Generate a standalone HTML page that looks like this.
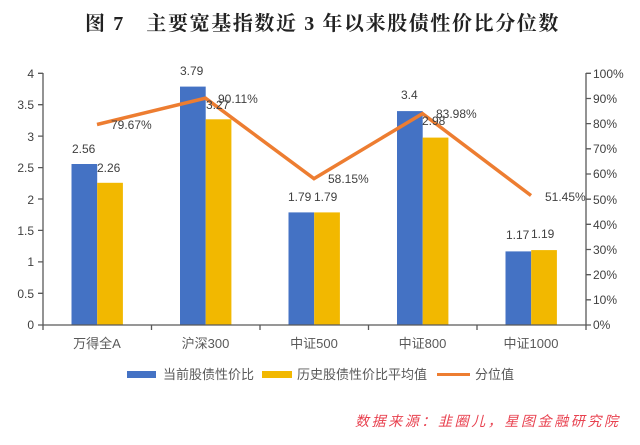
<!DOCTYPE html>
<html><head><meta charset="utf-8"><style>
body{margin:0;background:#fff;}
svg{display:block;font-family:"Liberation Sans","Noto Sans CJK SC",sans-serif;}
</style></head><body>
<svg width="640" height="445" viewBox="0 0 640 445" xmlns="http://www.w3.org/2000/svg">
<text x="85" y="30" font-family="'Liberation Serif','Noto Serif CJK SC',serif" font-size="20" font-weight="bold" fill="#222" letter-spacing="1.6">图 7　主要宽基指数近 3 年以来股债性价比分位数</text>
<g fill="#4472c4">
<rect x="71.5" y="164" width="25.7" height="161"/>
<rect x="180" y="86.6" width="25.7" height="238.4"/>
<rect x="288.5" y="212.4" width="25.7" height="112.6"/>
<rect x="397" y="111.1" width="25.7" height="213.9"/>
<rect x="505.5" y="251.4" width="25.7" height="73.6"/>
</g>
<g fill="#f2b800">
<rect x="97.2" y="182.8" width="25.7" height="142.2"/>
<rect x="205.7" y="119.3" width="25.7" height="205.7"/>
<rect x="314.2" y="212.4" width="25.7" height="112.6"/>
<rect x="422.7" y="137.6" width="25.7" height="187.4"/>
<rect x="531.2" y="250.1" width="25.7" height="74.9"/>
</g>
<polyline points="97,124.5 205.5,98.2 314,178.6 422.5,113.6 531,195.5" fill="none" stroke="#ed7d31" stroke-width="3.5" stroke-linejoin="miter"/>
<g stroke="#595959" stroke-width="1.3" fill="none">
<line x1="43" y1="73" x2="43" y2="325"/>
<line x1="586" y1="73" x2="586" y2="325"/>
<line x1="38" y1="325" x2="591" y2="325"/>
<path d="M38 73.3h5M38 104.7h5M38 136.1h5M38 167.6h5M38 199h5M38 230.4h5M38 261.9h5M38 293.3h5"/>
<path d="M586 73.3h5M586 98.5h5M586 123.6h5M586 148.8h5M586 174h5M586 199.2h5M586 224.3h5M586 249.5h5M586 274.7h5M586 299.8h5"/>
<path d="M151.5 325v5M260 325v5M368.5 325v5M477 325v5M43 325v5M586 325v5"/>
</g>
<g font-size="12" fill="#404040" text-anchor="end">
<text x="34" y="78">4</text><text x="34" y="109">3.5</text><text x="34" y="141">3</text><text x="34" y="172">2.5</text><text x="34" y="204">2</text><text x="34" y="235">1.5</text><text x="34" y="266">1</text><text x="34" y="298">0.5</text><text x="34" y="329">0</text>
</g>
<g font-size="12" fill="#404040">
<text x="593" y="78">100%</text><text x="593" y="103">90%</text><text x="593" y="128">80%</text><text x="593" y="153">70%</text><text x="593" y="178">60%</text><text x="593" y="204">50%</text><text x="593" y="229">40%</text><text x="593" y="254">30%</text><text x="593" y="279">20%</text><text x="593" y="304">10%</text><text x="593" y="329">0%</text>
</g>
<g font-size="13" fill="#595959" text-anchor="middle">
<text x="97" y="348">万得全A</text><text x="205.5" y="348">沪深300</text><text x="314" y="348">中证500</text><text x="422.5" y="348">中证800</text><text x="531" y="348">中证1000</text>
</g>
<g font-size="12" fill="#404040">
<text x="72" y="153">2.56</text><text x="97" y="172">2.26</text><text x="111" y="129">79.67%</text>
<text x="180" y="75">3.79</text><text x="206" y="109">3.27</text><text x="218" y="103">90.11%</text>
<text x="288" y="201">1.79</text><text x="314" y="201">1.79</text><text x="328" y="183">58.15%</text>
<text x="401" y="99">3.4</text><text x="422" y="125">2.98</text><text x="436" y="118">83.98%</text>
<text x="506" y="239">1.17</text><text x="531" y="238">1.19</text><text x="545" y="201">51.45%</text>
</g>
<rect x="127" y="371" width="29" height="7" fill="#4472c4"/>
<text x="163" y="379" font-size="13" fill="#595959">当前股债性价比</text>
<rect x="262" y="371" width="30" height="7" fill="#f2b800"/>
<text x="297" y="379" font-size="13" fill="#595959">历史股债性价比平均值</text>
<line x1="437" y1="374.5" x2="470" y2="374.5" stroke="#ed7d31" stroke-width="3"/>
<text x="475" y="379" font-size="13" fill="#595959">分位值</text>
<text x="355" y="426" font-size="14" fill="#e8414f" font-style="italic" letter-spacing="2.6">数据来源：韭圈儿，星图金融研究院</text>
</svg>
</body></html>
